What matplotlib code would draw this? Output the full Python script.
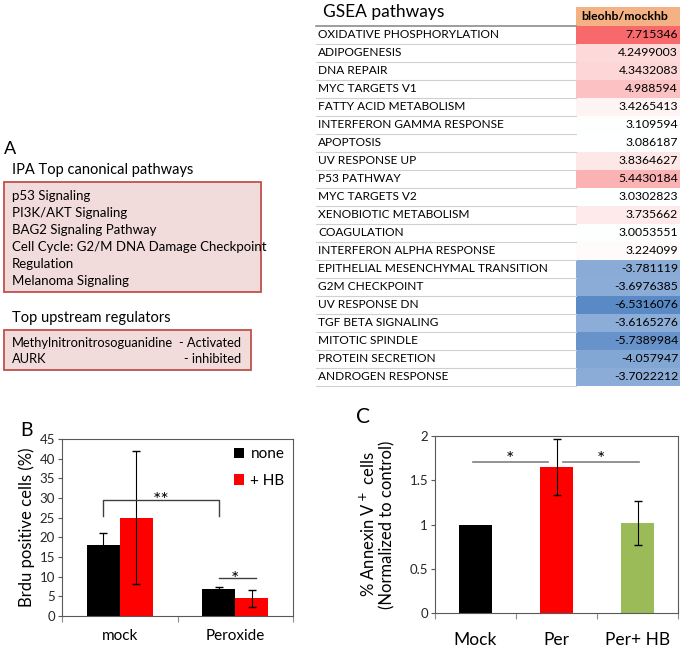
import numpy as np
import matplotlib
matplotlib.use('Agg')
import matplotlib.pyplot as plt
from matplotlib.patches import Rectangle
from matplotlib.colors import LinearSegmentedColormap, TwoSlopeNorm

plt.rcParams['font.family'] = ['Lato', 'DejaVu Sans']

# GSEA table
pathways = ['OXIDATIVE PHOSPHORYLATION', 'ADIPOGENESIS', 'DNA REPAIR', 'MYC TARGETS V1',
            'FATTY ACID METABOLISM', 'INTERFERON GAMMA RESPONSE', 'APOPTOSIS', 'UV RESPONSE UP',
            'P53 PATHWAY', 'MYC TARGETS V2', 'XENOBIOTIC METABOLISM', 'COAGULATION',
            'INTERFERON ALPHA RESPONSE', 'EPITHELIAL MESENCHYMAL TRANSITION', 'G2M CHECKPOINT',
            'UV RESPONSE DN', 'TGF BETA SIGNALING', 'MITOTIC SPINDLE', 'PROTEIN SECRETION',
            'ANDROGEN RESPONSE']
scores = ['7.715346', '4.2499003', '4.3432083', '4.988594', '3.4265413', '3.109594', '3.086187',
          '3.8364627', '5.4430184', '3.0302823', '3.735662', '3.0053551', '3.224099', '-3.781119',
          '-3.6976385', '-6.5316076', '-3.6165276', '-5.7389984', '-4.057947', '-3.7022212']

# IPA lists
ipa_pathways = ['p53 Signaling', 'PI3K/AKT Signaling', 'BAG2 Signaling Pathway',
                'Cell Cycle: G2/M DNA Damage Checkpoint', 'Regulation', 'Melanoma Signaling']
regulators = ['Methylnitronitrosoguanidine', 'AURK']
regulator_state = ['- Activated', '- inhibited']

# Panel B
b_groups = ['mock', 'Peroxide']
b_none = [18.0, 6.8]
b_none_err = [3.0, 0.7]
b_hb = [25.0, 4.5]
b_hb_err = [16.9, 2.2]

# Panel C
c_groups = ['Mock', 'Per', 'Per+ HB']
c_vals = [1.0, 1.65, 1.02]
c_err = [0.0, 0.315, 0.25]

W, H = 685, 647
fig = plt.figure(figsize=(W / 100, H / 100), dpi=100)

# pixel-space canvas for table and text panels
bg = fig.add_axes([0, 0, 1, 1])
bg.set_xlim(0, W)
bg.set_ylim(H, 0)
bg.axis('off')

# ---- GSEA table
vals = np.array([float(s) for s in scores])
cmap = LinearSegmentedColormap.from_list('xl', ['#5a8ac6', '#ffffff', '#f8696b'])
norm = TwoSlopeNorm(vmin=vals.min(), vcenter=np.median(vals), vmax=vals.max())

x_name, x_val, x_end = 316, 576, 680
top, rh = 25.5, 18.0
bg.text(323, 12, 'GSEA pathways', fontsize=12.5, va='center', ha='left')
bg.add_patch(Rectangle((x_val, 7), x_end - x_val, top - 7, facecolor='#f4b183', edgecolor='none'))
bg.text(x_val + 5, 16, 'bleohb/mockhb', fontsize=8.8, fontweight='bold', va='center', ha='left')
bg.plot([x_name, x_val], [top, top], color='#8c8c8c', lw=1.2)
for i, (name, s) in enumerate(zip(pathways, scores)):
    y0 = top + i * rh
    bg.add_patch(Rectangle((x_val, y0), x_end - x_val, rh, facecolor=cmap(norm(vals[i])),
                           edgecolor='none'))
    bg.plot([x_name, x_val], [y0 + rh, y0 + rh], color='#d0d0d0', lw=0.8)
    bg.text(x_name + 2, y0 + rh / 2 + 0.5, name, fontsize=8.6, va='center', ha='left')
    bg.text(x_end - 2, y0 + rh / 2 + 0.5, s, fontsize=8.8, va='center', ha='right')

# ---- Panel A
bg.text(4, 149, 'A', fontsize=13, va='center', ha='left')
bg.text(12, 170, 'IPA Top canonical pathways', fontsize=10.5, va='center', ha='left')
bg.add_patch(Rectangle((4, 182), 257, 110, facecolor='#f2dcdb', edgecolor='#c0504d', lw=1.3))
for i, p in enumerate(ipa_pathways):
    bg.text(12, 196 + i * 17, p, fontsize=9.5, va='center', ha='left')
bg.text(12, 318, 'Top upstream regulators', fontsize=10.5, va='center', ha='left')
bg.add_patch(Rectangle((4, 330), 247, 40, facecolor='#f2dcdb', edgecolor='#c0504d', lw=1.3))
for i, (r, st) in enumerate(zip(regulators, regulator_state)):
    bg.text(12, 343 + i * 16, r, fontsize=9.3, va='center', ha='left')
    bg.text(241, 343 + i * 16, st, fontsize=9.3, va='center', ha='right')


def px_axes(l, t, r, b):
    return fig.add_axes([l / W, 1 - b / H, (r - l) / W, (b - t) / H])


def style_axes(ax, n):
    for sp in ax.spines.values():
        sp.set_color('#595959')
        sp.set_linewidth(0.8)
    ax.set_xlim(-0.5, n - 0.5)
    ax.set_xticks(np.arange(n + 1) - 0.5)
    ax.set_xticklabels([])
    ax.tick_params(axis='x', which='major', direction='out', length=4, color='#8c8c8c')
    ax.tick_params(axis='y', direction='out', length=3, color='#595959', labelsize=9.5,
                   labelcolor='#262626', pad=2)


# ---- Panel B
axb = px_axes(62, 439, 293, 616)
x = np.arange(len(b_groups))
w = 0.286
axb.bar(x - w / 2, b_none, w, color='black', label='none')
axb.bar(x + w / 2, b_hb, w, color='#ff0000', label='+ HB')
axb.errorbar(x - w / 2, b_none, yerr=b_none_err, fmt='none', ecolor='black', capsize=3, elinewidth=0.8)
axb.errorbar(x + w / 2, b_hb, yerr=b_hb_err, fmt='none', ecolor='black', capsize=3, elinewidth=0.8)
axb.set_ylim(0, 45)
axb.set_yticks(np.arange(0, 46, 5))
style_axes(axb, len(b_groups))
axb.set_xticks(x, minor=True)
axb.set_xticklabels(b_groups, minor=True, fontsize=11)
axb.tick_params(axis='x', which='minor', length=0, pad=9)
axb.set_ylabel('Brdu positive cells (%)', fontsize=12, labelpad=3)
axb.plot([-w / 2, -w / 2, 1 - w / 2, 1 - w / 2], [25.5, 29.5, 29.5, 25.5], color='#404040', lw=1)
axb.text(0.5 - w / 2, 27.3, '**', ha='center', va='bottom', fontsize=14)
axb.plot([1 - w / 2, 1 + w / 2 + 0.04], [9.7, 9.7], color='#404040', lw=1)
axb.text(1.0, 7.2, '*', ha='center', va='bottom', fontsize=14)
axb.legend(loc='upper right', frameon=False, fontsize=11, handlelength=0.7, handleheight=0.7,
           handletextpad=0.4, labelspacing=0.8, borderaxespad=0.15)
bg.text(20, 431, 'B', fontsize=14, va='center', ha='left')

# ---- Panel C
axc = px_axes(435, 436, 678, 613)
xc = np.arange(len(c_groups))
axc.bar(xc, c_vals, 0.41, color=['black', '#ff0000', '#9bbb59'])
axc.errorbar(xc[1:], c_vals[1:], yerr=c_err[1:], fmt='none', ecolor='black', capsize=3, elinewidth=0.8)
axc.set_ylim(0, 2)
axc.set_yticks([0, 0.5, 1, 1.5, 2])
axc.set_yticklabels(['0', '0.5', '1', '1.5', '2'])
style_axes(axc, len(c_groups))
axc.set_xticks(xc, minor=True)
axc.set_xticklabels(c_groups, minor=True, fontsize=12.5)
axc.tick_params(axis='x', which='minor', length=0, pad=14)
axc.set_ylabel('% Annexin V$^+$ cells\n(Normalized to control)', fontsize=12, labelpad=10,
               linespacing=1.1)
axc.plot([-0.03, 0.9], [1.71, 1.71], color='#808080', lw=1.2)
axc.plot([1.08, 2.02], [1.71, 1.71], color='#808080', lw=1.2)
axc.text(0.43, 1.64, '*', ha='center', va='bottom', fontsize=14)
axc.text(1.55, 1.64, '*', ha='center', va='bottom', fontsize=14)
bg.text(356, 417, 'C', fontsize=15, va='center', ha='left')

fig.savefig('out.png', dpi=100)
